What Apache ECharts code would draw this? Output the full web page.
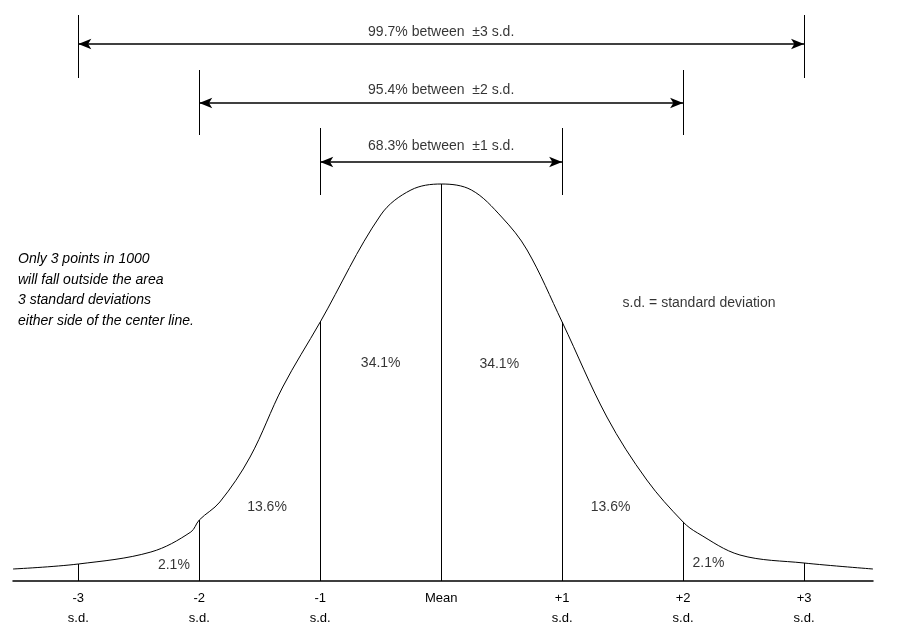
<!DOCTYPE html><html><head><meta charset="utf-8">
<script src="https://cdn.jsdelivr.net/npm/echarts@6/dist/echarts.min.js"></script>
<style>html,body{margin:0;background:#fff}#c{width:899px;height:637px}</style></head><body><div id="c"></div>
<script>
// curve heights (pixels above baseline) at sd positions
const curveX = [-3.54,-3,-2.4,-2.07,-2,-1.83,-1.58,-1.31,-1,-0.5,-0.25,0,0.25,0.5,0.71,1,1.37,1.7,2,2.12,2.47,3,3.57];
const curveY = [12,17,29,49,61,79,124,194,259,366,391,397,391,364,331,259,164,101,59,48,26,18,12];
const tickVals = [-3,-2,-1,0,1,2,3];
const tickNames = ['-3\ns.d.','-2\ns.d.','-1\ns.d.','Mean','+1\ns.d.','+2\ns.d.','+3\ns.d.'];
const dividers = [[-3,17],[-2,61],[-1,259],[0,397],[1,259],[2,59],[3,18]];
const pctLabels = [[-2.21,16,'2.1%'],[-1.44,74,'13.6%'],[-0.5,218,'34.1%'],[0.48,217,'34.1%'],[1.4,74,'13.6%'],[2.21,18,'2.1%']];
// [sd, arrow height, bar top, bar bottom, text height, text]
const ranges = [[3,537,566,503,549,'99.7% between  ±3 s.d.'],[2,478,511,446,491,'95.4% between  ±2 s.d.'],[1,419,453,386,435,'68.3% between  ±1 s.d.']];
const note = ['Only 3 points in 1000','will fall outside the area','3 standard deviations','either side of the center line.'];
const ink = '#000';
const mk = [];
dividers.forEach(d=>mk.push([{coord:[d[0],0]},{coord:[d[0],d[1]]}]));
const arrows = [];
ranges.forEach(r=>{
  mk.push([{coord:[-r[0],r[2]]},{coord:[-r[0],r[3]]}]);
  mk.push([{coord:[r[0],r[2]]},{coord:[r[0],r[3]]}]);
  arrows.push([{coord:[-r[0],r[1]]},{coord:[r[0],r[1]]}]);
});
const textPts = pctLabels.map(p=>({value:[p[0],p[1]],label:{formatter:p[2]}}))
  .concat(ranges.map(r=>({value:[0,r[4]],label:{formatter:r[5]}})))
  .concat([{value:[1.5,278],label:{formatter:'s.d. = standard deviation',position:'right',distance:0}}]);
const chart = echarts.init(document.getElementById('c'));
chart.setOption({
  animation:false,
  grid:{left:13,right:26,top:0,bottom:56,outerBoundsMode:'none',containLabel:false},
  xAxis:{type:'value',min:-3.54,max:3.57,splitLine:{show:false},
    axisLine:{lineStyle:{color:ink,width:1.5}},axisTick:{show:false},
    axisLabel:{customValues:tickVals,formatter:v=>tickNames[tickVals.indexOf(v)],color:ink,fontFamily:'Liberation Sans',fontSize:13,lineHeight:20,margin:7,showMinLabel:true,showMaxLabel:true}},
  yAxis:{type:'value',min:0,max:581,show:false},
  graphic:[{type:'text',left:18,top:249,style:{text:note.join('\n'),font:'italic 14px "Liberation Sans"',lineHeight:20.5,fill:ink}}],
  series:[
    {type:'line',data:curveX.map((x,i)=>[x,curveY[i]]),smooth:0.35,symbol:'none',lineStyle:{color:ink,width:1},
     markLine:{silent:true,symbol:'none',label:{show:false},lineStyle:{color:ink,width:1,type:'solid'},data:mk}},
    {type:'line',data:[],markLine:{silent:true,symbol:['arrow','arrow'],symbolSize:[8,13],label:{show:false},lineStyle:{color:ink,width:1.5,type:'solid'},data:arrows}},
    {type:'scatter',symbolSize:0,data:textPts,
     label:{show:true,position:'inside',color:ink,fontFamily:'Liberation Sans',fontSize:14}}
  ]
});
</script></body></html>
